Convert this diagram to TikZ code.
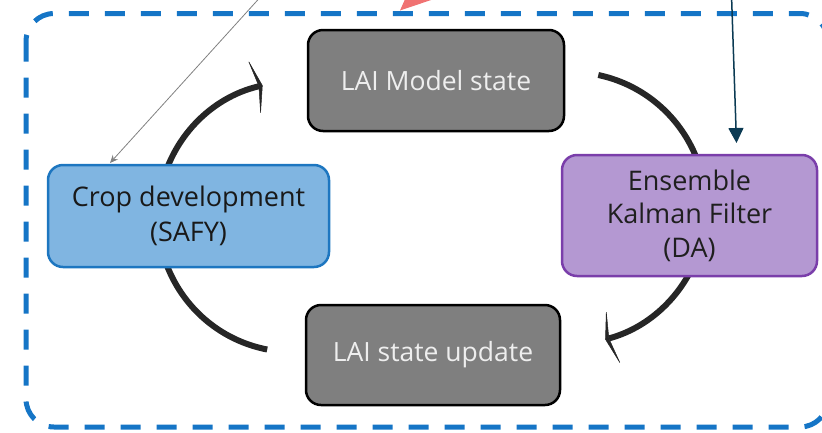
\documentclass[tikz,border=0pt]{standalone}
\usepackage{fontspec}
\setmainfont{Open Sans}
\usetikzlibrary{arrows.meta}
\definecolor{dashblue}{HTML}{1575C6}
\definecolor{graybox}{HTML}{7F7F7F}
\definecolor{graytext}{HTML}{EEEEEE}
\definecolor{cropfill}{HTML}{80B5E1}
\definecolor{cropedge}{HTML}{1D76C0}
\definecolor{dafill}{HTML}{B498D2}
\definecolor{daedge}{HTML}{7A3EAA}
\definecolor{cyclecol}{HTML}{262626}
\definecolor{navyline}{HTML}{0B3A53}
\definecolor{salmon}{HTML}{F07272}
\tikzset{
  statebox/.style={draw=black, fill=graybox, line width=2.5pt, rounded corners=15pt,
    text=graytext, font=\fontsize{26.5}{33}\selectfont, align=center},
  cropbox/.style={draw=cropedge, fill=cropfill, line width=2.5pt, rounded corners=15pt,
    text=black!90, font=\fontsize{27}{35}\selectfont, align=center},
  dabox/.style={draw=daedge, fill=dafill, line width=2.5pt, rounded corners=15pt,
    text=black!88, font=\fontsize{27}{33.5}\selectfont, align=center},
  cyclearrow/.style={draw=cyclecol, line width=6pt,
    -{Stealth[length=9pt,width=60pt,inset=5pt,line width=0.5pt]}},
  frame/.style={draw=dashblue, line width=5pt, dash pattern=on 20pt off 16pt, rounded corners=28pt}
}
\begin{document}
\begin{tikzpicture}[x=1pt,y=-1pt]
\useasboundingbox (0,0) rectangle (822,432);
\clip (0,0) rectangle (822,432);
% frame
\draw[frame] (26,13.5) rectangle (828,427);
% cycle arcs
\coordinate (la) at (267.2,349.5);
\coordinate (ra) at (598.3,75.0);
\draw[cyclearrow] (la) arc[start angle=101, end angle=257, radius=135];
\draw[cyclearrow] (ra) arc[start angle=-78, end angle=75, radius=136];
% nodes
\node[statebox, minimum width=256pt, minimum height=101pt] (model) at (436,80.5) {LAI Model state};
\node[statebox, minimum width=254pt, minimum height=100pt] (update) at (433,355) {LAI state update};
\node[cropbox, minimum width=281pt, minimum height=102pt] (crop) at (188.5,216) {Crop development\\(SAFY)};
\node[dabox, minimum width=255pt, minimum height=121pt] (enkf) at (689.5,215.5) {Ensemble\\Kalman Filter\\(DA)};
% incoming arrows from outside
\coordinate (gs) at (274,-18);
\coordinate (gt) at (110,163);
\draw[draw=gray, line width=0.8pt, -{Stealth[length=8pt,width=7pt]}] (gs) -- (gt);
\coordinate (ns) at (731.5,-5);
\coordinate (nt) at (736.5,143);
\draw[draw=navyline, line width=1.5pt, -{Triangle[length=15pt,width=15pt]}] (ns) -- (nt);
\fill[salmon] (400,10.5) -- (406,-3) -- (440,-3) -- cycle;
\end{tikzpicture}
\end{document}
